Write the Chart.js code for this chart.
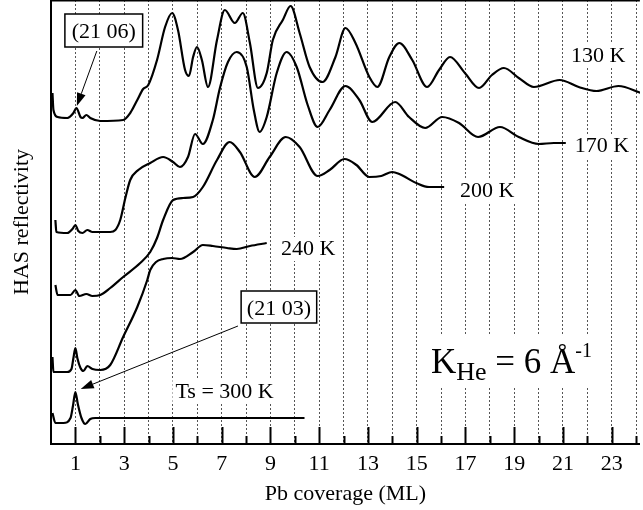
<!DOCTYPE html>
<html>
<head>
<meta charset="utf-8">
<script src="https://cdn.jsdelivr.net/npm/chart.js@4.4.1/dist/chart.umd.min.js"></script>
<style>
    html, body { margin: 0; padding: 0; background: #fff; }
    #wrap { width: 643px; height: 510px; }
</style>
</head>
<body>
<div id="wrap"><canvas id="chart" width="643" height="510"></canvas></div>
<script>
// Pb coverage (ML) and HAS reflectivity (arb. units), one pair per temperature
const coverage130 = [0.06, 0.10, 0.27, 0.67, 0.92, 1.04, 1.21, 1.29, 1.45, 1.61, 2.02, 2.96, 3.25, 3.54, 3.78, 3.99, 4.35, 4.68, 4.97, 5.21, 5.50, 5.66, 5.83, 5.99, 6.19, 6.44, 6.81, 7.13, 7.54, 7.87, 8.16, 8.49, 8.85, 9.10, 9.51, 9.83, 10.20, 10.61, 11.14, 11.67, 12.08, 12.49, 13.06, 13.39, 13.88, 14.29, 14.82, 15.43, 15.92, 16.37, 16.98, 17.56, 18.09, 18.58, 19.19, 19.81, 20.87, 21.65, 22.38, 23.28, 24.22];
const refl130 = [351, 334, 327, 326, 331, 336, 327, 326, 329, 326, 323, 324, 331, 344, 355, 359, 384, 417, 431, 414, 374, 368, 387, 397, 384, 357, 404, 434, 421, 431, 401, 356, 371, 404, 424, 438, 411, 377, 362, 387, 416, 401, 367, 357, 387, 401, 384, 357, 374, 387, 371, 356, 369, 376, 366, 357, 364, 357, 353, 358, 351];

const coverage170 = [0.18, 0.22, 0.67, 0.88, 1.00, 1.12, 1.29, 1.49, 1.70, 2.43, 2.64, 2.84, 3.05, 3.25, 3.58, 4.07, 4.60, 5.01, 5.29, 5.62, 5.91, 6.23, 6.64, 6.93, 7.26, 7.62, 8.03, 8.32, 8.56, 8.85, 9.26, 9.67, 10.08, 10.53, 10.94, 11.43, 12.08, 12.65, 13.18, 14.12, 14.69, 15.35, 16.05, 16.74, 17.52, 18.42, 19.19, 20.01, 20.63, 21.12];
const refl170 = [224, 212, 211, 215, 219, 213, 211, 214, 212, 212, 214, 224, 246, 264, 274, 281, 287, 282, 277, 287, 310, 300, 324, 356, 382, 392, 377, 334, 312, 327, 371, 392, 377, 339, 317, 334, 358, 344, 322, 342, 327, 316, 327, 321, 307, 317, 307, 300, 301, 301];

const coverage200 = [0.18, 0.27, 0.80, 1.00, 1.16, 1.45, 1.70, 2.02, 2.43, 2.96, 3.66, 4.07, 4.35, 4.60, 5.01, 5.42, 5.83, 6.23, 6.81, 7.33, 7.75, 8.36, 8.97, 9.63, 10.20, 10.94, 11.43, 12.04, 12.53, 13.06, 13.55, 14.00, 14.29, 14.99, 15.51, 16.13];
const refl200 = [159, 149, 149, 154, 148, 150, 148, 149, 156, 167, 181, 192, 206, 224, 244, 246, 247, 257, 284, 302, 292, 267, 287, 307, 297, 268, 274, 285, 279, 267, 268, 272, 270, 261, 257, 257];

const coverage240 = [0.06, 0.10, 0.67, 0.84, 0.92, 1.00, 1.08, 1.21, 1.33, 1.49, 1.70, 2.02, 2.43, 2.96, 3.54, 3.95, 4.07, 4.31, 4.60, 4.97, 5.29, 5.83, 6.23, 6.64, 7.22, 7.62, 8.16, 8.85];
const refl240 = [87, 72, 72, 75, 86, 96, 86, 76, 73, 78, 75, 74, 79, 107, 137, 164, 174, 182, 185, 186, 185, 192, 199, 198, 196, 195, 198, 201];

const coverage300 = [0.06, 0.18, 0.51, 0.80, 0.90, 1.00, 1.10, 1.25, 1.41, 1.61, 1.82, 10.40];
const refl300 = [31, 21, 21, 26, 38, 52, 40, 26, 20, 25, 26, 26];

const labeledTicks = [1, 3, 5, 7, 9, 11, 13, 15, 17, 19, 21, 23];
const minorTicks = [2, 4, 6, 8, 10, 12, 14, 16, 18, 20, 22, 24];

const serif = '"Liberation Serif", "Times New Roman", serif';

function toPoints(xs, ys) {
    return xs.map((x, i) => ({ x, y: ys[i] }));
}

function curve(xs, ys) {
    return {
        data: toPoints(xs, ys),
        showLine: true,
        borderColor: '#000',
        borderWidth: 2.2,
        pointRadius: 0,
        cubicInterpolationMode: 'monotone',
        fill: false,
    };
}

// text labels (x in ML, y = baseline in reflectivity units)
const tempLabels = [
    { text: '130 K', x: 22.45, y: 382 },
    { text: '170 K', x: 22.6, y: 292 },
    { text: '200 K', x: 17.9, y: 247 },
    { text: '240 K', x: 10.55, y: 189 },
    { text: 'Ts = 300 K', x: 7.12, y: 46 },
];

const boxLabels = [
    { text: '(21 06)', x0: 0.57, x1: 3.76, y0: 430, y1: 397, ty: 406, from: [1.88, 393], to: [1.06, 338] },
    { text: '(21 03)', x0: 7.80, x1: 10.90, y0: 153, y1: 121, ty: 129, from: [7.67, 118], to: [1.22, 55] },
];

const kBox = { x0: 15.47, x1: 22.24, y0: 109, y1: 56, x: 15.59, y: 71 };

function drawArrow(ctx, x1, y1, x2, y2) {
    const angle = Math.atan2(y2 - y1, x2 - x1);
    const headLen = 13;
    const headHalf = 4.5;
    const bx = x2 - headLen * Math.cos(angle);
    const by = y2 - headLen * Math.sin(angle);
    ctx.beginPath();
    ctx.moveTo(x1, y1);
    ctx.lineTo(bx, by);
    ctx.lineWidth = 1;
    ctx.stroke();
    ctx.beginPath();
    ctx.moveTo(x2, y2);
    ctx.lineTo(bx + headHalf * Math.sin(angle), by - headHalf * Math.cos(angle));
    ctx.lineTo(bx - headHalf * Math.sin(angle), by + headHalf * Math.cos(angle));
    ctx.closePath();
    ctx.fill();
}

const annotationPlugin = {
    id: 'annotations',
    beforeDatasetsDraw(chart) {
        const { ctx, scales: { x, y } } = chart;
        ctx.save();
        ctx.fillStyle = '#fff';
        ctx.font = `22px ${serif}`;
        tempLabels.forEach((label) => {
            const w = ctx.measureText(label.text).width + 6;
            ctx.fillRect(x.getPixelForValue(label.x) - w / 2, y.getPixelForValue(label.y) - 18, w, 24);
        });
        const kx0 = x.getPixelForValue(kBox.x0);
        const ky0 = y.getPixelForValue(kBox.y0);
        ctx.fillRect(kx0, ky0, x.getPixelForValue(kBox.x1) - kx0, y.getPixelForValue(kBox.y1) - ky0);
        ctx.restore();
    },
    afterDatasetsDraw(chart) {
        const { ctx, chartArea, scales: { x, y } } = chart;
        ctx.save();
        ctx.fillStyle = '#000';
        ctx.strokeStyle = '#000';

        // top frame
        ctx.lineWidth = 1.5;
        ctx.beginPath();
        ctx.moveTo(chartArea.left, chartArea.top + 0.75);
        ctx.lineTo(chartArea.right, chartArea.top + 0.75);
        ctx.stroke();

        // inward tick marks
        ctx.lineWidth = 2;
        x.ticks.forEach((tick) => {
            const px = Math.round(x.getPixelForValue(tick.value)) + 0.5;
            const len = labeledTicks.includes(tick.value) ? 17 : 8;
            ctx.beginPath();
            ctx.moveTo(px, chartArea.bottom);
            ctx.lineTo(px, chartArea.bottom - len);
            ctx.stroke();
        });

        ctx.font = `22px ${serif}`;
        ctx.textAlign = 'center';
        ctx.textBaseline = 'alphabetic';
        tempLabels.forEach((label) => {
            ctx.fillText(label.text, x.getPixelForValue(label.x), y.getPixelForValue(label.y));
        });

        boxLabels.forEach((box) => {
            const bx0 = x.getPixelForValue(box.x0);
            const by0 = y.getPixelForValue(box.y0);
            const bx1 = x.getPixelForValue(box.x1);
            const by1 = y.getPixelForValue(box.y1);
            ctx.fillStyle = '#fff';
            ctx.fillRect(bx0, by0, bx1 - bx0, by1 - by0);
            ctx.lineWidth = 1.5;
            ctx.strokeRect(bx0, by0, bx1 - bx0, by1 - by0);
            ctx.fillStyle = '#000';
            ctx.fillText(box.text, (bx0 + bx1) / 2, y.getPixelForValue(box.ty));
            drawArrow(ctx,
                x.getPixelForValue(box.from[0]), y.getPixelForValue(box.from[1]),
                x.getPixelForValue(box.to[0]), y.getPixelForValue(box.to[1]));
        });

        // K_He = 6 Å^-1
        ctx.textAlign = 'left';
        let cx = x.getPixelForValue(kBox.x);
        const base = y.getPixelForValue(kBox.y);
        ctx.font = `35px ${serif}`;
        ctx.fillText('K', cx, base);
        cx += ctx.measureText('K').width;
        ctx.font = `26px ${serif}`;
        ctx.fillText('He', cx, base + 7);
        cx += ctx.measureText('He').width;
        ctx.font = `35px ${serif}`;
        ctx.fillText(' = 6 Å', cx, base);
        cx += ctx.measureText(' = 6 Å').width;
        ctx.font = `20px ${serif}`;
        ctx.fillText('-1', cx, base - 16);

        ctx.restore();
    },
};

new Chart(document.getElementById('chart'), {
    type: 'scatter',
    data: {
        datasets: [
            curve(coverage130, refl130),
            curve(coverage170, refl170),
            curve(coverage200, refl200),
            curve(coverage240, refl240),
            curve(coverage300, refl300),
        ],
    },
    options: {
        responsive: false,
        animation: false,
        layout: { padding: 0 },
        plugins: {
            legend: { display: false },
            tooltip: { enabled: false },
        },
        scales: {
            x: {
                type: 'linear',
                min: 0,
                max: 24.16,
                afterBuildTicks(scale) {
                    scale.ticks = [...labeledTicks, ...minorTicks]
                        .sort((a, b) => a - b)
                        .map((value) => ({ value }));
                },
                afterFit(scale) {
                    scale.height = 66;
                },
                ticks: {
                    autoSkip: false,
                    maxRotation: 0,
                    padding: 7,
                    color: '#000',
                    font: { family: serif, size: 22 },
                    callback(value) {
                        return labeledTicks.includes(value) ? String(value) : '';
                    },
                },
                grid: {
                    color: '#555',
                    lineWidth: 1,
                    drawTicks: false,
                },
                border: { display: true, color: '#000', width: 2, dash: [2, 2] },
                title: {
                    display: true,
                    text: 'Pb coverage (ML)',
                    color: '#000',
                    font: { family: serif, size: 22 },
                    padding: { top: 0, bottom: 3 },
                },
            },
            y: {
                type: 'linear',
                min: 0,
                max: 444,
                afterFit(scale) {
                    scale.width = 51;
                },
                ticks: { display: false },
                grid: { display: false },
                border: { display: true, color: '#000', width: 2 },
                title: {
                    display: true,
                    text: 'HAS reflectivity',
                    color: '#000',
                    font: { family: serif, size: 22 },
                    padding: { top: 9, bottom: 0 },
                },
            },
        },
    },
    plugins: [annotationPlugin],
});
</script>
</body>
</html>
